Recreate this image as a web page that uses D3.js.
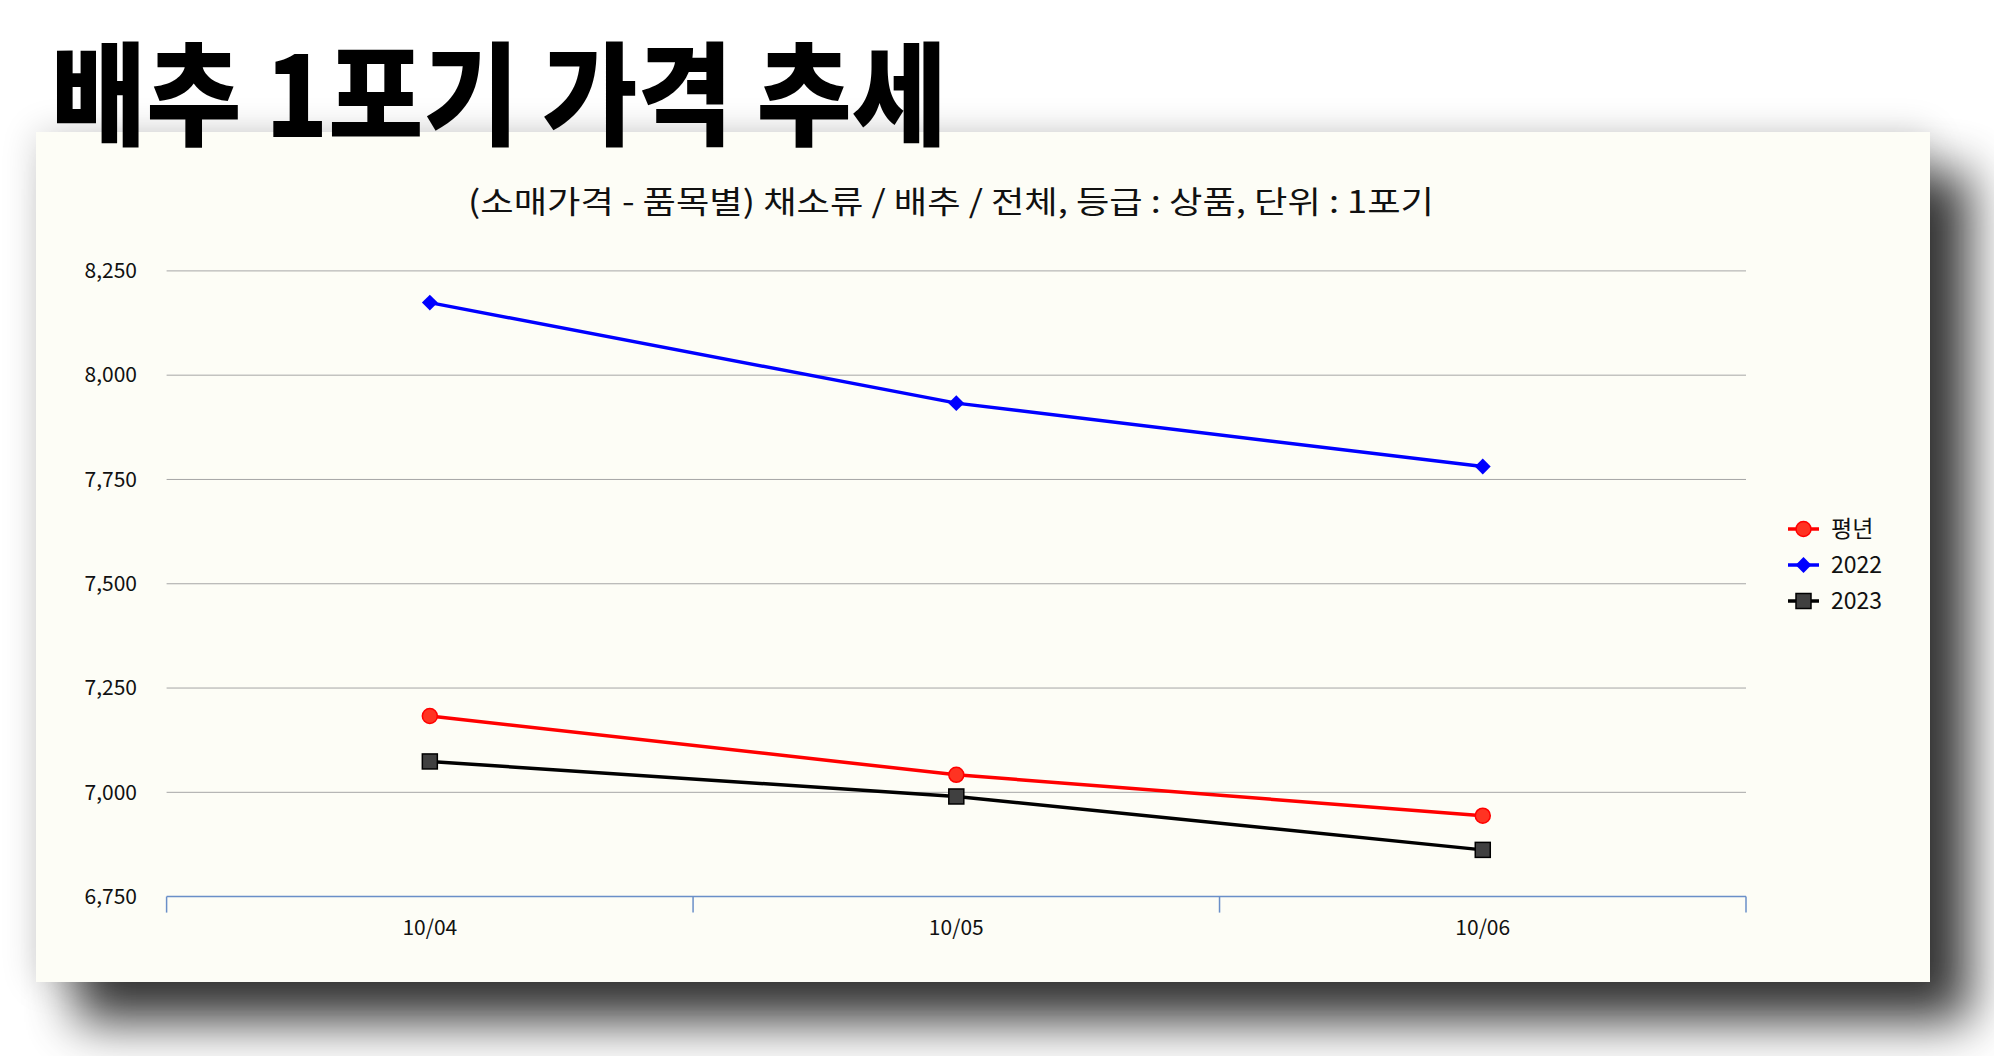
<!DOCTYPE html>
<html><head><meta charset="utf-8">
<script src="https://cdn.jsdelivr.net/npm/d3@7"></script>
<style>html,body{margin:0;padding:0;background:#fff;overflow:hidden}</style>
</head><body>
<svg id="c" width="1994" height="1056"></svg>
<script>
const titleText = "배추 1포기 가격 추세";
const subtitleText = "(소매가격 - 품목별) 채소류 / 배추 / 전체, 등급 : 상품, 단위 : 1포기";
const categories = ["10/04", "10/05", "10/06"];
const seriesNames = ["평년", "2022", "2023"];
const valuesAvg = [7183, 7042, 6944];
const values2022 = [8174, 7933, 7781];
const values2023 = [7074, 6990, 6862];
const yTicks = [6750, 7000, 7250, 7500, 7750, 8000, 8250];

const series = [
  {name: seriesNames[0], values: valuesAvg, color: "#ff0000", fill: "#ff3322", shape: "circle"},
  {name: seriesNames[1], values: values2022, color: "#0000ff", fill: "#0000ff", shape: "diamond"},
  {name: seriesNames[2], values: values2023, color: "#000000", fill: "#404040", shape: "square"}
];

const svg = d3.select("#c");
const defs = svg.append("defs");
const f = defs.append("filter").attr("id", "sh").attr("x", "-20%").attr("y", "-20%").attr("width", "140%").attr("height", "140%");
f.append("feGaussianBlur").attr("in", "SourceAlpha").attr("stdDeviation", 25).attr("result", "b1");
f.append("feOffset").attr("in", "b1").attr("dx", 40).attr("dy", 40).attr("result", "o1");
f.append("feComponentTransfer").attr("in", "o1").attr("result", "s1")
  .append("feFuncA").attr("type", "linear").attr("slope", 0.78);
f.append("feGaussianBlur").attr("in", "SourceAlpha").attr("stdDeviation", 18).attr("result", "b2");
f.append("feComponentTransfer").attr("in", "b2").attr("result", "s2")
  .append("feFuncA").attr("type", "linear").attr("slope", 0.18);
const m = f.append("feMerge");
m.append("feMergeNode").attr("in", "s2");
m.append("feMergeNode").attr("in", "s1");
m.append("feMergeNode").attr("in", "SourceGraphic");

// panel
svg.append("rect").attr("x", 36).attr("y", 132).attr("width", 1894).attr("height", 850)
  .attr("fill", "#fdfdf6").attr("filter", "url(#sh)");

// title
svg.append("text").attr("x", 51).attr("y", 137)
  .attr("font-family", "'Noto Sans CJK KR'").attr("font-weight", 900).attr("font-size", 112)
  .attr("textLength", 896).attr("lengthAdjust", "spacingAndGlyphs")
  .attr("fill", "#000").text(titleText);

// subtitle
svg.append("text").attr("x", 468).attr("y", 213)
  .attr("font-family", "'Noto Sans CJK KR'").attr("font-size", 31)
  .attr("textLength", 966).attr("lengthAdjust", "spacingAndGlyphs")
  .attr("fill", "#111").text(subtitleText);

const x = d3.scaleBand().domain(categories).range([166.6, 1746]).padding(0);
const y = d3.scaleLinear().domain([6750, 8250]).range([896.6, 270.9]);
const cx = d => x(d) + x.bandwidth() / 2;

// gridlines
svg.append("g").selectAll("line").data(yTicks.filter(v => v > 6750)).join("line")
  .attr("x1", 166.6).attr("x2", 1746).attr("y1", d => y(d)).attr("y2", d => y(d))
  .attr("stroke", "#a6a6a6").attr("stroke-width", 1);

// y axis labels
const yAxis = d3.axisLeft(y).tickValues(yTicks).tickFormat(d3.format(",")).tickSize(0).tickPadding(0);
const yg = svg.append("g").attr("transform", "translate(137,0)").call(yAxis);
yg.select(".domain").remove();
yg.selectAll("text").attr("font-family", "'Noto Sans CJK KR'").attr("font-size", 21).attr("fill", "#111");

// x axis
svg.append("line").attr("x1", 166.6).attr("x2", 1746).attr("y1", y(6750)).attr("y2", y(6750))
  .attr("stroke", "#6a8fc8").attr("stroke-width", 1.5);
const edges = categories.map(c => x(c)).concat([x(categories[categories.length - 1]) + x.bandwidth()]);
svg.append("g").selectAll("line").data(edges).join("line")
  .attr("x1", d => d).attr("x2", d => d).attr("y1", y(6750)).attr("y2", y(6750) + 16)
  .attr("stroke", "#6a8fc8").attr("stroke-width", 1.5);
svg.append("g").selectAll("text").data(categories).join("text")
  .attr("x", d => cx(d)).attr("y", 935).attr("text-anchor", "middle")
  .attr("font-family", "'Noto Sans CJK KR'").attr("font-size", 21).attr("fill", "#111")
  .text(d => d);

function drawMarker(g, shape, px, py, s) {
  if (shape === "circle") {
    g.append("circle").attr("cx", px).attr("cy", py).attr("r", 7.5)
      .attr("fill", s.fill).attr("stroke", s.color).attr("stroke-width", 1.5);
  } else if (shape === "diamond") {
    g.append("path").attr("d", d3.symbol(d3.symbolDiamond2, 160)())
      .attr("transform", `translate(${px},${py})`).attr("fill", s.fill);
  } else {
    g.append("rect").attr("x", px - 7.5).attr("y", py - 7.5).attr("width", 15).attr("height", 15)
      .attr("fill", s.fill).attr("stroke", s.color).attr("stroke-width", 1.5);
  }
}

const line = d3.line().x((d, i) => cx(categories[i])).y(d => y(d));
const plot = svg.append("g");
series.forEach(s => {
  plot.append("path").attr("d", line(s.values)).attr("fill", "none")
    .attr("stroke", s.color).attr("stroke-width", 3.5);
});
series.forEach(s => {
  const g = plot.append("g");
  s.values.forEach((v, i) => drawMarker(g, s.shape, cx(categories[i]), y(v), s));
});

// legend
const legend = svg.append("g");
series.forEach((s, i) => {
  const ly = 529 + i * 36;
  legend.append("line").attr("x1", 1788).attr("x2", 1819).attr("y1", ly).attr("y2", ly)
    .attr("stroke", s.color).attr("stroke-width", 3.5);
  drawMarker(legend, s.shape, 1803.5, ly, s);
  legend.append("text").attr("x", 1831).attr("y", ly + 8)
    .attr("font-family", "'Noto Sans CJK KR'").attr("font-size", 23).attr("fill", "#111")
    .text(s.name);
});
</script>
</body></html>
